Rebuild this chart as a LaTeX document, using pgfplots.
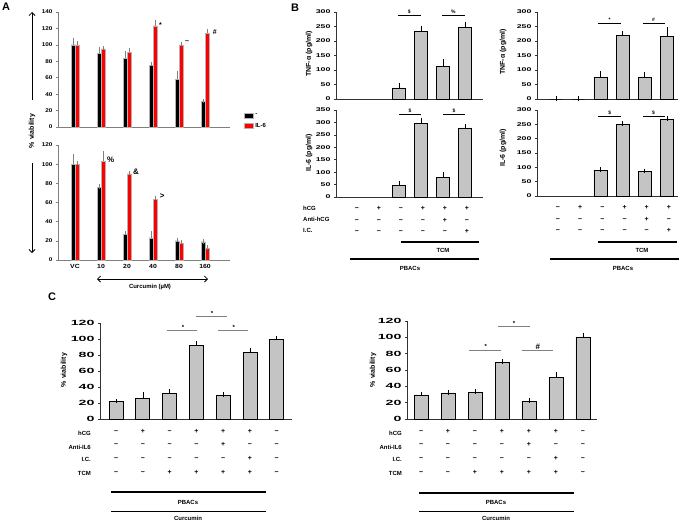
\documentclass[border=0pt]{standalone}
\usepackage{fontspec}
\setmainfont{Liberation Sans}
\newfontfamily\fA[FakeStretch=1.15]{Liberation Sans}
\newfontfamily\fB[FakeStretch=1.6]{Liberation Sans}
\newfontfamily\fC[FakeStretch=1.9]{Liberation Sans}
\usepackage{pgfplots}
\pgfplotsset{compat=1.18}
\usetikzlibrary{arrows.meta}

\definecolor{barred}{HTML}{FF0000}
\definecolor{bargray}{HTML}{C4C4C4}
\definecolor{axgray}{HTML}{7F7F7F}
\newcommand{\fs}[1]{\fontsize{#1}{#1}\selectfont}
% signs with equal height, so that all rows line up
\newcommand{\mi}{\rule{0pt}{1.2ex}−}
\newcommand{\pl}{\rule{0pt}{1.2ex}+}

\tikzset{sig/.style={line width=0.6bp, draw=#1}}
\pgfplotsset{
  panel/.style={scale only axis, axis lines*=left, ybar, clip=false, ymin=0,
    xtick=\empty, tick align=outside, major tick length=2bp,
    axis line style={line width=0.6bp, draw=#1},
    ytick style={line width=0.5bp, draw=#1},
    x tick style={draw=none},
    /pgf/number format/assume math mode=true},
  eb/.style={error bars/.cd, y dir=plus, y explicit,
    error bar style={line width=0.5bp, draw=#1},
    error mark options={line width=0.5bp, draw=#1, mark size=2.2bp}},
  gbar/.style={fill=bargray, draw=black, line width=0.7bp, eb=black},
  pA/.style={panel=axgray, xmin=-0.654, xmax=5.96, width=172bp, height=115bp,
    ybar=0pt, bar width=4bp,
    yticklabel style={font=\fs{5.5}\fA\bfseries}},
  pB/.style={panel=black!80, width=147bp, height=87bp, bar width=13bp,
    yticklabel style={font=\fs{5.5}\fB\bfseries}},
  pC/.style={panel=black!80, ymax=120, ytick={0,20,...,120}, bar width=14bp,
    yticklabel style={font=\fs{7.5}\fC\bfseries},
    xtick={0,...,6},
    xticklabels={{\mi\\\mi\\\mi\\\mi},{\pl\\\mi\\\mi\\\mi},{\mi\\\mi\\\mi\\\pl},{\pl\\\mi\\\mi\\\pl},{\pl\\\pl\\\mi\\\pl},{\pl\\\mi\\\pl\\\pl},{\mi\\\mi\\\mi\\\mi}},
    xticklabel style={align=center, font=\fontsize{7}{13.6}\selectfont\bfseries,
      anchor=north, yshift=-4.5bp}},
  signsB/.style={xtick={0,...,5},
    xticklabels={{\mi\\\mi\\\mi},{\pl\\\mi\\\mi},{\mi\\\mi\\\mi},{\pl\\\mi\\\mi},{\pl\\\pl\\\mi},{\pl\\\mi\\\pl}},
    xticklabel style={align=center, font=\fontsize{7}{11.3}\selectfont\bfseries,
      anchor=north, yshift=-4bp, xshift=2bp}},
}

\begin{document}
\begin{tikzpicture}
\useasboundingbox (0,0) rectangle (685bp,-522bp);

% ---------- A, without IL-6 pre-treatment ----------
\begin{axis}[pA, at={(58bp,-127bp)}, ymax=140, ytick={0,20,...,140},
  legend style={at={(1.08,0.135)}, anchor=north west, draw=none, fill=none,
    font=\fs{6}\bfseries, row sep=2bp, inner sep=0pt},
  legend cell align=left,
  legend image code/.code={\fill[#1] (0bp,-2.6bp) rectangle (9bp,2.6bp);}]
\addplot[fill=black, draw=gray!60, line width=0.3bp, bar shift=-2bp, eb=gray]
  coordinates {(0,100)+-(0,6) (1,90)+-(0,5) (2,84)+-(0,6) (3,75)+-(0,2) (4,58)+-(0,7) (5,31)+-(0,1)};
\addplot[fill=barred, draw=gray!60, line width=0.3bp, bar shift=2bp, eb=gray]
  coordinates {(0,100)+-(0,2) (1,95)+-(0,1) (2,91)+-(0,3) (3,123)+-(0,4) (4,100)+-(0,1) (5,114)+-(0,3)};
\legend{-, IL-6}
\node[font=\fs{7}\bfseries] at (axis cs:3.29,124) {*};
\node[font=\fs{7}\bfseries] at (axis cs:4.31,103) {\char`\~};
\node[font=\fs{7}\bfseries] at (axis cs:5.38,115) {\#};
\end{axis}

% ---------- A, with IL-6 ----------
\begin{axis}[pA, at={(58bp,-260bp)}, ymax=120, ytick={0,20,...,120},
  xtick={0,...,5}, xticklabels={VC,10,20,40,80,160},
  xticklabel style={font=\fs{6}\fA\bfseries, yshift=1bp}]
\addplot[fill=black, draw=gray!60, line width=0.3bp, bar shift=-2bp, eb=gray]
  coordinates {(0,100)+-(0,8) (1,76)+-(0,0.5) (2,27)+-(0,1) (3,23)+-(0,5) (4,20)+-(0,1) (5,19)+-(0,0.5)};
\addplot[fill=barred, draw=gray!60, line width=0.3bp, bar shift=2bp, eb=gray]
  coordinates {(0,100)+-(0,1) (1,103)+-(0,8) (2,90)+-(0,0.5) (3,63)+-(0,2) (4,18)+-(0,0.5) (5,12)+-(0,1)};
\node[font=\fs{8}\bfseries] at (axis cs:1.37,105) {\%};
\node[font=\fs{8}\bfseries] at (axis cs:2.35,92) {\&};
\node[font=\fs{8}\bfseries] at (axis cs:3.35,67) {>};
\end{axis}

% ---------- B left, TNF ----------
\begin{axis}[pB, at={(336bp,-99bp)}, xmin=-0.864, xmax=5.82, ymax=300, ytick={0,50,...,300}]
\addplot[gbar] coordinates {(2,38)+-(0,10) (3,233)+-(0,12) (4,112)+-(0,17) (5,247)+-(0,12)};
\draw[sig=black] (axis cs:1.95,290) -- (axis cs:3,290);
\draw[sig=black] (axis cs:3.95,290) -- (axis cs:5,290);
\node[font=\fs{5}\bfseries, anchor=south, inner sep=1bp] at (axis cs:2.47,290) {\$};
\node[font=\fs{5}\bfseries, anchor=south, inner sep=1bp] at (axis cs:4.47,290) {\%};
\end{axis}

% ---------- B left, IL-6 ----------
\begin{axis}[pB, signsB, at={(336bp,-197bp)}, xmin=-0.864, xmax=5.82, ymax=350, ytick={0,50,...,350}]
\addplot[gbar] coordinates {(2,45)+-(0,10) (3,297)+-(0,12) (4,80)+-(0,12) (5,278)+-(0,8)};
\draw[sig=black] (axis cs:2,334) -- (axis cs:3,334);
\draw[sig=black] (axis cs:4,334) -- (axis cs:5,334);
\node[font=\fs{5}\bfseries, anchor=south, inner sep=1bp] at (axis cs:2.5,334) {\$};
\node[font=\fs{5}\bfseries, anchor=south, inner sep=1bp] at (axis cs:4.5,334) {\$};
\end{axis}

% ---------- B right, TNF ----------
\begin{axis}[pB, at={(537bp,-99bp)}, width=141bp, xmin=-0.856, xmax=5.5, ymax=300, ytick={0,50,...,300}]
\addplot[gbar] coordinates {(0,0)+-(0,2) (1,0)+-(0,2) (2,75)+-(0,13) (3,220)+-(0,7) (4,75)+-(0,10) (5,215)+-(0,25)};
\draw[sig=black] (axis cs:1.9,262) -- (axis cs:2.95,262);
\draw[sig=black] (axis cs:3.9,262) -- (axis cs:4.9,262);
\node[font=\fs{5}\bfseries, anchor=south, inner sep=1bp] at (axis cs:2.42,262) {*};
\node[font=\fs{5}\bfseries, anchor=south, inner sep=1bp] at (axis cs:4.4,262) {\#};
\end{axis}

% ---------- B right, IL-6 ----------
\begin{axis}[pB, signsB, at={(537bp,-196bp)}, width=141bp, height=86bp, xmin=-0.856, xmax=5.5, ymax=300, ytick={0,50,...,300}]
\addplot[gbar] coordinates {(2,90)+-(0,2) (3,250)+-(0,3) (4,85)+-(0,3) (5,267)+-(0,3)};
\draw[sig=black] (axis cs:1.9,279) -- (axis cs:2.95,279);
\draw[sig=black] (axis cs:3.9,279) -- (axis cs:4.9,279);
\node[font=\fs{5}\bfseries, anchor=south, inner sep=1bp] at (axis cs:2.42,279) {\$};
\node[font=\fs{5}\bfseries, anchor=south, inner sep=1bp] at (axis cs:4.4,279) {\$};
\end{axis}

% ---------- C left ----------
\begin{axis}[pC, at={(100bp,-419bp)}, width=192bp, height=96bp, xmin=-0.6, xmax=6.57]
\addplot[gbar] coordinates {(0,22)+-(0,0.5) (1,26)+-(0,5) (2,32.5)+-(0,2.5) (3,92)+-(0,3) (4,29.5)+-(0,1) (5,83.5)+-(0,3) (6,100)+-(0,1.5)};
\draw[sig=gray] (axis cs:1.91,111) -- (axis cs:3.03,111);
\draw[sig=gray] (axis cs:3.0,128) -- (axis cs:4.16,128);
\draw[sig=gray] (axis cs:3.82,111) -- (axis cs:4.94,111);
\node[font=\fs{6}\bfseries, anchor=south, inner sep=1bp] at (axis cs:2.5,111) {*};
\node[font=\fs{6}\bfseries, anchor=south, inner sep=1bp] at (axis cs:3.58,128) {*};
\node[font=\fs{6}\bfseries, anchor=south, inner sep=1bp] at (axis cs:4.4,111) {*};
\end{axis}

% ---------- C right ----------
\begin{axis}[pC, at={(407bp,-419bp)}, width=190bp, height=98bp, xmin=-0.52, xmax=6.52]
\addplot[gbar] coordinates {(0,29.5)+-(0,1) (1,32)+-(0,0.5) (2,33)+-(0,0.5) (3,69.5)+-(0,1) (4,21.5)+-(0,1) (5,50.5)+-(0,4) (6,100.5)+-(0,2.5)};
\draw[sig=gray] (axis cs:1.79,84.5) -- (axis cs:2.95,84.5);
\draw[sig=gray] (axis cs:2.87,113.6) -- (axis cs:4.03,113.6);
\draw[sig=gray] (axis cs:3.73,84.5) -- (axis cs:4.89,84.5);
\node[font=\fs{6}\bfseries, anchor=south, inner sep=1bp] at (axis cs:2.4,84.5) {*};
\node[font=\fs{6}\bfseries, anchor=south, inner sep=1bp] at (axis cs:3.45,113.6) {*};
\node[font=\fs{8}\bfseries, anchor=south, inner sep=0.5bp] at (axis cs:4.33,84.5) {\#};
\end{axis}

% ---------- labels and brackets ----------
\begin{scope}[x=1bp, y=-1bp, every node/.style={font=\bfseries}]
\node[font=\fs{11}\bfseries] at (6,7) {A};
\node[font=\fs{11}\bfseries] at (295,8) {B};
\node[font=\fs{11}\bfseries] at (52,297) {C};
% A
\node[rotate=90, font=\fs{7}\bfseries] at (32,131) {\% viability};
\draw[line width=0.8bp, -{Straight Barb[length=3bp, width=6bp]}] (32,100) -- (32,12);
\draw[line width=0.8bp, -{Straight Barb[length=3bp, width=6bp]}] (32,163) -- (32,253);
\draw[line width=0.8bp, {Straight Barb[length=3bp, width=6bp]}-{Straight Barb[length=3bp, width=6bp]}] (97,279) -- (208,279);
\node[font=\fs{6}\bfseries] at (150,287) {Curcumin (µM)};
% B
\node[rotate=90, font=\fs{7}\bfseries] at (309,54) {TNF-α (pg/ml)};
\node[rotate=90, font=\fs{7}\bfseries] at (309,153) {IL-6 (pg/ml)};
\node[rotate=90, font=\fs{7}\bfseries] at (503,52) {TNF-α (pg/ml)};
\node[rotate=90, font=\fs{7}\bfseries] at (503,148) {IL-6 (pg/ml)};
\node[anchor=west, font=\fs{6}\bfseries, inner sep=0pt] at (303,208) {hCG};
\node[anchor=west, font=\fs{6}\bfseries, inner sep=0pt] at (303,219) {Anti-hCG};
\node[anchor=west, font=\fs{6}\bfseries, inner sep=0pt] at (303,230) {I.C.};
\draw[line width=1.2bp] (401,242) -- (479,242);
\node[font=\fs{6}\bfseries] at (443,250) {TCM};
\draw[line width=1.2bp] (350,259) -- (479,259);
\node[font=\fs{6}\bfseries] at (410,268) {PBACs};
\draw[line width=1.2bp] (598,242) -- (677,242);
\node[font=\fs{6}\bfseries] at (642,250) {TCM};
\draw[line width=1.2bp] (550,259) -- (679,259);
\node[font=\fs{6}\bfseries] at (623,268) {PBACs};
% C
\node[rotate=90, font=\fs{7}\bfseries] at (64,370) {\% viability};
\node[rotate=90, font=\fs{7}\bfseries] at (373,370) {\% viability};
\foreach \xx in {91, 402} {
  \node[anchor=east, font=\fs{6}\bfseries, inner sep=0pt] at (\xx,433) {hCG};
  \node[anchor=east, font=\fs{6}\bfseries, inner sep=0pt] at (\xx,447) {Anti-IL6};
  \node[anchor=east, font=\fs{6}\bfseries, inner sep=0pt] at (\xx,459) {I.C.};
  \node[anchor=east, font=\fs{6}\bfseries, inner sep=0pt] at (\xx,473) {TCM};
}
\draw[line width=1.2bp] (111,492) -- (266,492);
\node[font=\fs{6}\bfseries] at (188,502) {PBACs};
\draw[line width=0.9bp] (111,511) -- (266,511);
\node[font=\fs{6}\bfseries] at (188,518) {Curcumin};
\draw[line width=1.2bp] (419,493) -- (574,493);
\node[font=\fs{6}\bfseries] at (496,502) {PBACs};
\draw[line width=0.9bp] (419,511) -- (574,511);
\node[font=\fs{6}\bfseries] at (496,518) {Curcumin};
\end{scope}
\end{tikzpicture}
\end{document}
